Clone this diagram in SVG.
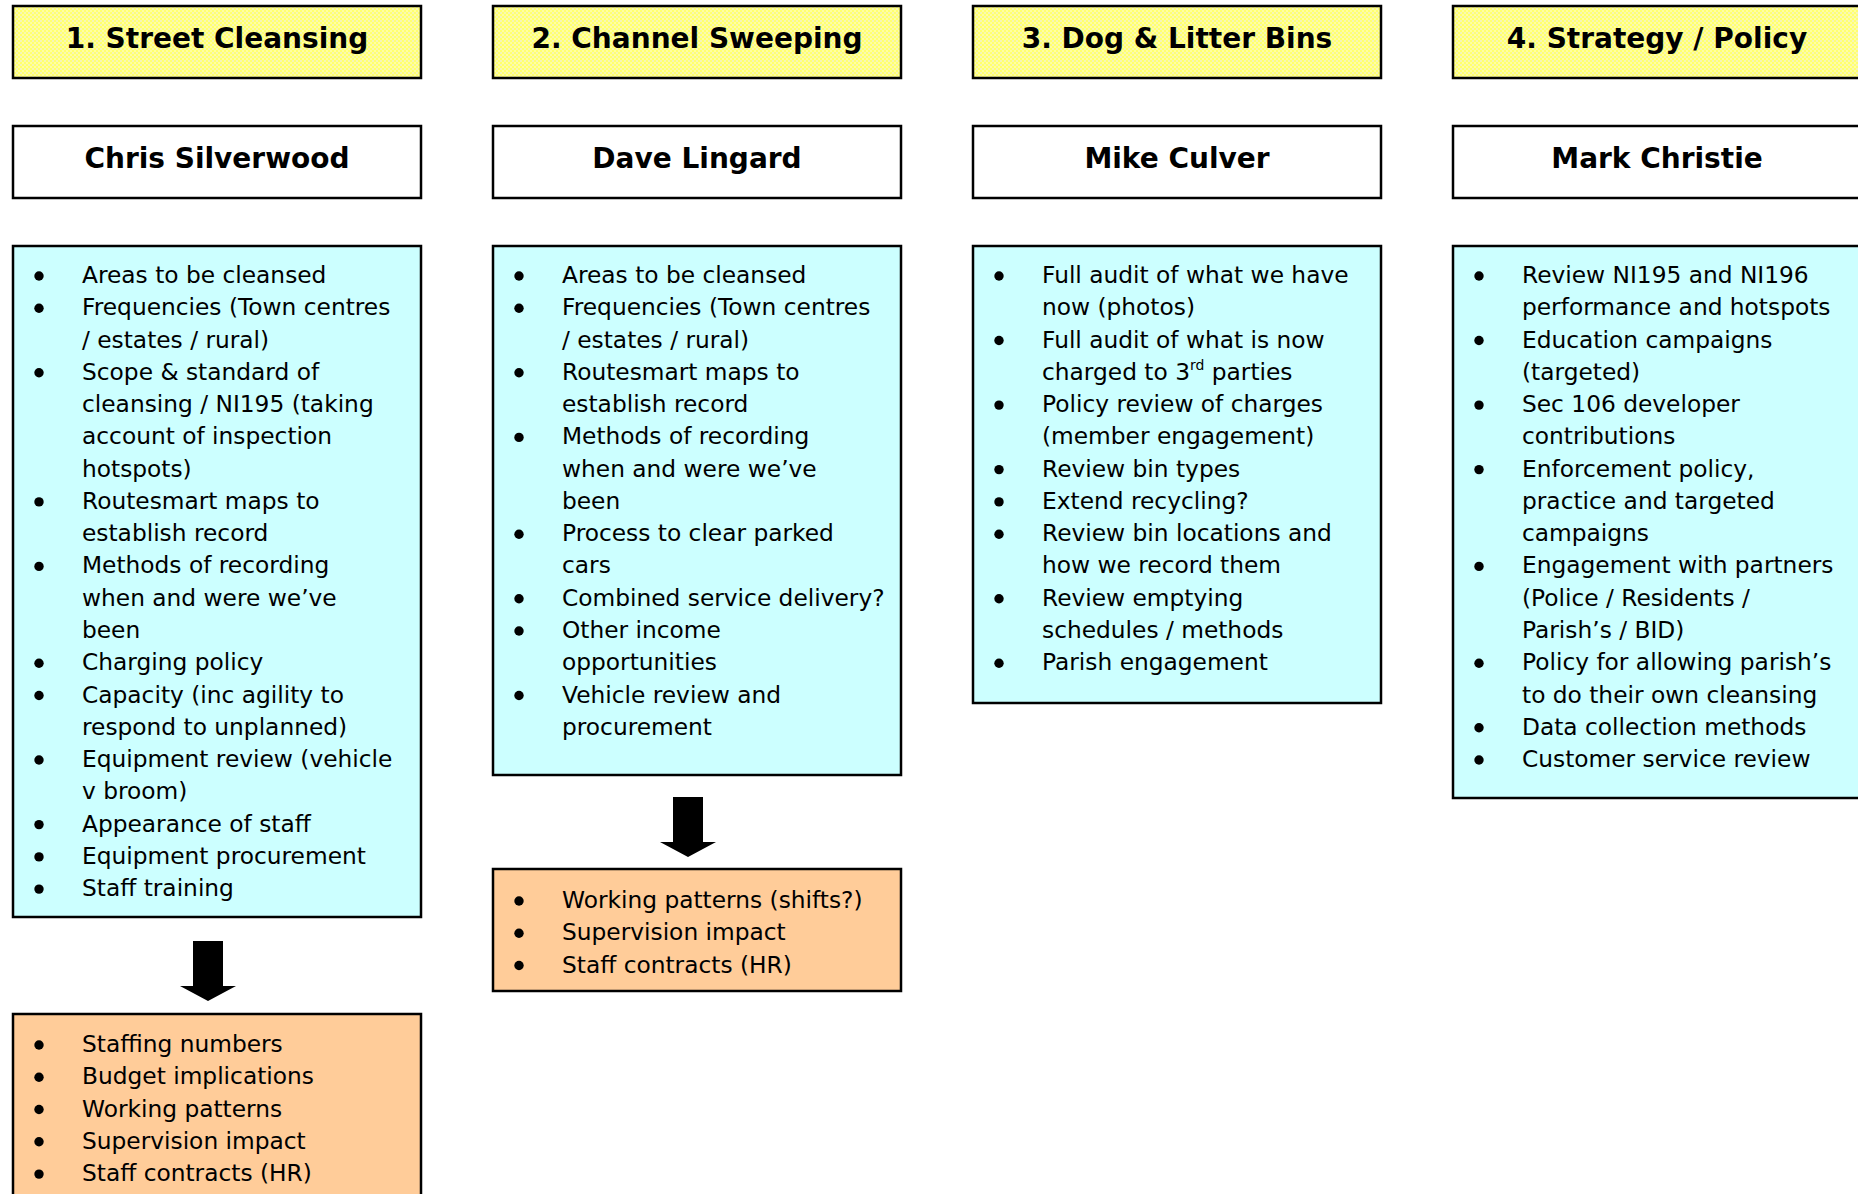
<svg xmlns="http://www.w3.org/2000/svg" width="1858" height="1194" viewBox="0 0 1858 1194">
<defs>
<pattern id="grid" width="4" height="4" patternUnits="userSpaceOnUse">
<rect width="4" height="4" fill="#FFFF70"/>
<rect x="0" y="0" width="2" height="2" fill="#F6F6B8"/>
<rect x="2" y="2" width="2" height="2" fill="#FFFFA0"/>
</pattern>
<style>
.hdr{fill:url(#grid);stroke:#000;stroke-width:2.5}
.name{fill:#fff;stroke:#000;stroke-width:2.5}
.blue{fill:#CCFFFF;stroke:#000;stroke-width:2.5}
.orange{fill:#FFCC99;stroke:#000;stroke-width:2.5}
.t{font-family:"DejaVu Sans","Liberation Sans",sans-serif;font-weight:bold;font-size:28px;text-anchor:middle;fill:#000}
.b{font-family:"DejaVu Sans","Liberation Sans",sans-serif;font-size:23.3px;fill:#000}
.dot{fill:#000}
.arrow{fill:#000}
</style>
</defs>
<rect width="1858" height="1194" fill="#fff"/>

<g id="col1-header"><rect class="hdr" x="13" y="6" width="408" height="72"/><text class="t" x="217" y="48">1. Street Cleansing</text></g>
<g id="col2-header"><rect class="hdr" x="493" y="6" width="408" height="72"/><text class="t" x="697" y="48">2. Channel Sweeping</text></g>
<g id="col3-header"><rect class="hdr" x="973" y="6" width="408" height="72"/><text class="t" x="1177" y="48">3. Dog &amp; Litter Bins</text></g>
<g id="col4-header"><rect class="hdr" x="1453" y="6" width="408" height="72"/><text class="t" x="1657" y="48">4. Strategy / Policy</text></g>

<g id="col1-name"><rect class="name" x="13" y="126" width="408" height="72"/><text class="t" x="217" y="168">Chris Silverwood</text></g>
<g id="col2-name"><rect class="name" x="493" y="126" width="408" height="72"/><text class="t" x="697" y="168">Dave Lingard</text></g>
<g id="col3-name"><rect class="name" x="973" y="126" width="408" height="72"/><text class="t" x="1177" y="168">Mike Culver</text></g>
<g id="col4-name"><rect class="name" x="1453" y="126" width="408" height="72"/><text class="t" x="1657" y="168">Mark Christie</text></g>

<g id="col1-tasks">
<rect class="blue" x="13" y="246" width="408" height="671"/>
<g class="b">
<text x="82" y="283">Areas to be cleansed</text>
<text x="82" y="315.3">Frequencies (Town centres</text>
<text x="82" y="347.5">/ estates / rural)</text>
<text x="82" y="379.8">Scope &amp; standard of</text>
<text x="82" y="412.1">cleansing / NI195 (taking</text>
<text x="82" y="444.4">account of inspection</text>
<text x="82" y="476.6">hotspots)</text>
<text x="82" y="508.9">Routesmart maps to</text>
<text x="82" y="541.2">establish record</text>
<text x="82" y="573.4">Methods of recording</text>
<text x="82" y="605.7">when and were we’ve</text>
<text x="82" y="638">been</text>
<text x="82" y="670.2">Charging policy</text>
<text x="82" y="702.5">Capacity (inc agility to</text>
<text x="82" y="734.8">respond to unplanned)</text>
<text x="82" y="767">Equipment review (vehicle</text>
<text x="82" y="799.3">v broom)</text>
<text x="82" y="831.6">Appearance of staff</text>
<text x="82" y="863.9">Equipment procurement</text>
<text x="82" y="896.1">Staff training</text>
</g>
<g class="dot">
<circle cx="39" cy="276" r="4.7"/><circle cx="39" cy="308.3" r="4.7"/><circle cx="39" cy="372.8" r="4.7"/><circle cx="39" cy="501.9" r="4.7"/><circle cx="39" cy="566.4" r="4.7"/><circle cx="39" cy="663.2" r="4.7"/><circle cx="39" cy="695.5" r="4.7"/><circle cx="39" cy="760" r="4.7"/><circle cx="39" cy="824.6" r="4.7"/><circle cx="39" cy="856.9" r="4.7"/><circle cx="39" cy="889.1" r="4.7"/>
</g>
</g>

<g id="col2-tasks">
<rect class="blue" x="493" y="246" width="408" height="529"/>
<g class="b">
<text x="562" y="283">Areas to be cleansed</text>
<text x="562" y="315.3">Frequencies (Town centres</text>
<text x="562" y="347.5">/ estates / rural)</text>
<text x="562" y="379.8">Routesmart maps to</text>
<text x="562" y="412.1">establish record</text>
<text x="562" y="444.4">Methods of recording</text>
<text x="562" y="476.6">when and were we’ve</text>
<text x="562" y="508.9">been</text>
<text x="562" y="541.2">Process to clear parked</text>
<text x="562" y="573.4">cars</text>
<text x="562" y="605.7">Combined service delivery?</text>
<text x="562" y="638">Other income</text>
<text x="562" y="670.2">opportunities</text>
<text x="562" y="702.5">Vehicle review and</text>
<text x="562" y="734.8">procurement</text>
</g>
<g class="dot">
<circle cx="519" cy="276" r="4.7"/><circle cx="519" cy="308.3" r="4.7"/><circle cx="519" cy="372.8" r="4.7"/><circle cx="519" cy="437.4" r="4.7"/><circle cx="519" cy="534.2" r="4.7"/><circle cx="519" cy="598.7" r="4.7"/><circle cx="519" cy="631" r="4.7"/><circle cx="519" cy="695.5" r="4.7"/>
</g>
</g>

<g id="col3-tasks">
<rect class="blue" x="973" y="246" width="408" height="457"/>
<g class="b">
<text x="1042" y="283">Full audit of what we have</text>
<text x="1042" y="315.3">now (photos)</text>
<text x="1042" y="347.5">Full audit of what is now</text>
<text x="1042" y="379.8">charged to 3<tspan font-size="14" dy="-10">rd</tspan><tspan dy="10"> parties</tspan></text>
<text x="1042" y="412.1">Policy review of charges</text>
<text x="1042" y="444.4">(member engagement)</text>
<text x="1042" y="476.6">Review bin types</text>
<text x="1042" y="508.9">Extend recycling?</text>
<text x="1042" y="541.2">Review bin locations and</text>
<text x="1042" y="573.4">how we record them</text>
<text x="1042" y="605.7">Review emptying</text>
<text x="1042" y="638">schedules / methods</text>
<text x="1042" y="670.2">Parish engagement</text>
</g>
<g class="dot">
<circle cx="999" cy="276" r="4.7"/><circle cx="999" cy="340.5" r="4.7"/><circle cx="999" cy="405.1" r="4.7"/><circle cx="999" cy="469.6" r="4.7"/><circle cx="999" cy="501.9" r="4.7"/><circle cx="999" cy="534.2" r="4.7"/><circle cx="999" cy="598.7" r="4.7"/><circle cx="999" cy="663.2" r="4.7"/>
</g>
</g>

<g id="col4-tasks">
<rect class="blue" x="1453" y="246" width="408" height="552"/>
<g class="b">
<text x="1522" y="283">Review NI195 and NI196</text>
<text x="1522" y="315.3">performance and hotspots</text>
<text x="1522" y="347.5">Education campaigns</text>
<text x="1522" y="379.8">(targeted)</text>
<text x="1522" y="412.1">Sec 106 developer</text>
<text x="1522" y="444.4">contributions</text>
<text x="1522" y="476.6">Enforcement policy,</text>
<text x="1522" y="508.9">practice and targeted</text>
<text x="1522" y="541.2">campaigns</text>
<text x="1522" y="573.4">Engagement with partners</text>
<text x="1522" y="605.7">(Police / Residents /</text>
<text x="1522" y="638">Parish’s / BID)</text>
<text x="1522" y="670.2">Policy for allowing parish’s</text>
<text x="1522" y="702.5">to do their own cleansing</text>
<text x="1522" y="734.8">Data collection methods</text>
<text x="1522" y="767">Customer service review</text>
</g>
<g class="dot">
<circle cx="1479" cy="276" r="4.7"/><circle cx="1479" cy="340.5" r="4.7"/><circle cx="1479" cy="405.1" r="4.7"/><circle cx="1479" cy="469.6" r="4.7"/><circle cx="1479" cy="566.4" r="4.7"/><circle cx="1479" cy="663.2" r="4.7"/><circle cx="1479" cy="727.8" r="4.7"/><circle cx="1479" cy="760" r="4.7"/>
</g>
</g>

<g id="col1-impacts">
<rect class="orange" x="13" y="1014" width="408" height="200"/>
<g class="b">
<text x="82" y="1052">Staffing numbers</text>
<text x="82" y="1084.3">Budget implications</text>
<text x="82" y="1116.5">Working patterns</text>
<text x="82" y="1148.8">Supervision impact</text>
<text x="82" y="1181.1">Staff contracts (HR)</text>
</g>
<g class="dot">
<circle cx="39" cy="1045" r="4.7"/><circle cx="39" cy="1077.3" r="4.7"/><circle cx="39" cy="1109.5" r="4.7"/><circle cx="39" cy="1141.8" r="4.7"/><circle cx="39" cy="1174.1" r="4.7"/>
</g>
</g>

<g id="col2-impacts">
<rect class="orange" x="493" y="869" width="408" height="122"/>
<g class="b">
<text x="562" y="908">Working patterns (shifts?)</text>
<text x="562" y="940.3">Supervision impact</text>
<text x="562" y="972.5">Staff contracts (HR)</text>
</g>
<g class="dot">
<circle cx="519" cy="901" r="4.7"/><circle cx="519" cy="933.3" r="4.7"/><circle cx="519" cy="965.5" r="4.7"/>
</g>
</g>

<g id="connectors">
<polygon class="arrow" points="193,941 223,941 223,986 236,986 208,1001 180,986 193,986"/>
<polygon class="arrow" points="673,797 703,797 703,842 716,842 688,857 660,842 673,842"/>
</g>
</svg>
